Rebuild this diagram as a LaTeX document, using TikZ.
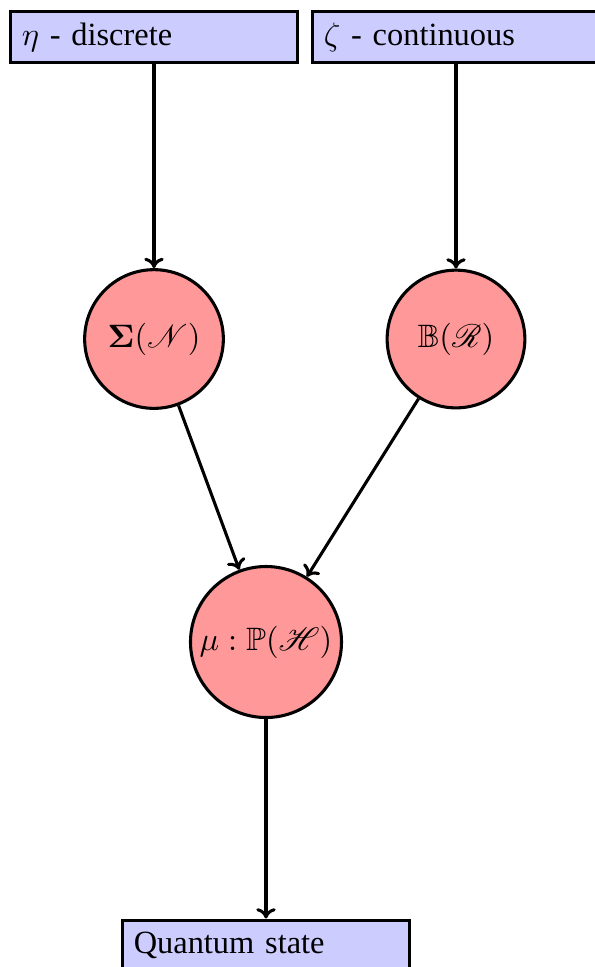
\documentclass[tikz,border=0pt]{standalone}
\usepackage{amsmath}
\usepackage{amssymb}
\usepackage{mathrsfs}
\usepackage[no-math]{fontspec}
\setmainfont{Liberation Serif}
\usetikzlibrary{arrows.meta}
\begin{document}
\begin{tikzpicture}[x=0.3086pt,y=-0.3086pt,
  box/.style={draw, line width=0.95pt, fill=blue!20, minimum height=15.4pt,
    text width=81.6pt, inner xsep=3.5pt, align=left},
  circ/.style={circle, draw, line width=0.95pt, fill=red!40, inner sep=0pt},
  conn/.style={-{To[length=3.2pt,width=6pt]}, line width=0.95pt}]
\useasboundingbox (0,0) rectangle (595,967);
\node[box] (d) at (154,37) {$\eta$ - discrete};
\node[box] (c) at (456,37) {$\zeta$ - continuous};
\node[circ, minimum size=42.8pt] (s) at (154,339) {$\boldsymbol{\Sigma}(\mathscr{N})$};
\node[circ, minimum size=42.5pt] (b) at (456,339) {$\mathbb{B}(\mathscr{R})$};
\node[circ, minimum size=46.6pt] (m) at (266,642) {$\mu:\mathbb{P}(\mathscr{H})$};
\node[box] (q) at (266,945) {Quantum state};
\draw[conn] (d) -- (s);
\draw[conn] (c) -- (b);
\draw[conn] (s) -- (m);
\draw[conn] (b) -- (m);
\draw[conn] (m) -- (q);
\end{tikzpicture}
\end{document}
